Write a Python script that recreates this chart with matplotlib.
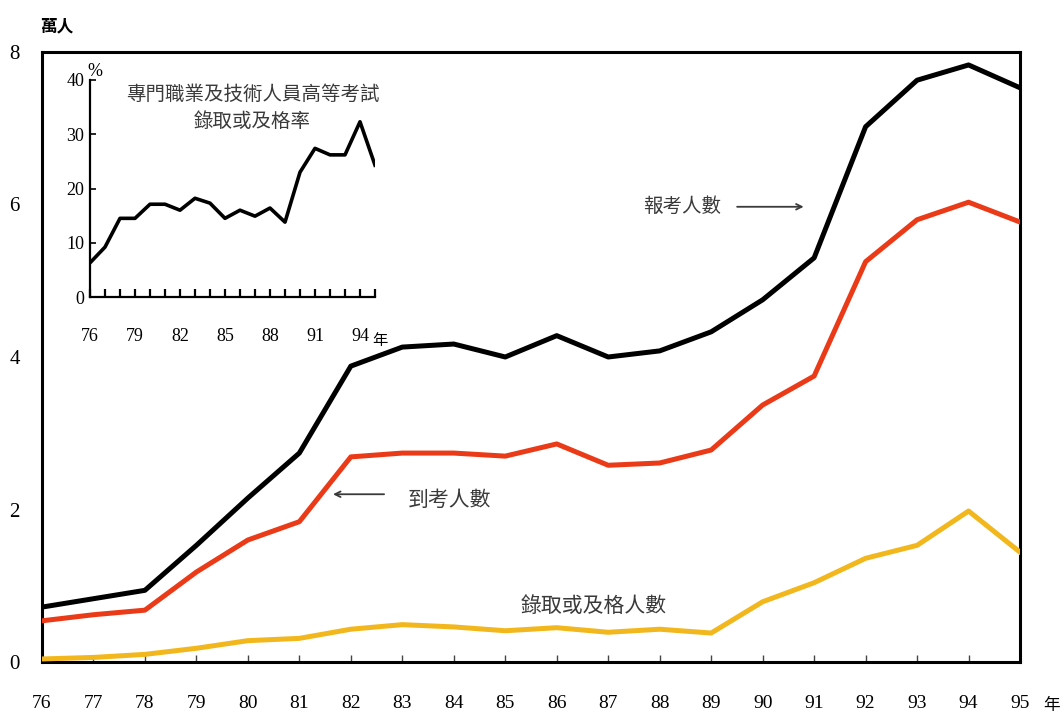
import numpy as np
import matplotlib.pyplot as plt

years = list(range(76, 96))

# 報考人數, 到考人數, 錄取或及格人數 (萬人)
applicants = [0.72, 0.83, 0.94, 1.53, 2.15, 2.74, 3.88, 4.13, 4.17, 4.00,
              4.28, 4.00, 4.08, 4.33, 4.75, 5.30, 7.02, 7.63, 7.83, 7.53]
attendees = [0.54, 0.62, 0.68, 1.18, 1.60, 1.84, 2.69, 2.74, 2.74, 2.70,
             2.86, 2.58, 2.61, 2.78, 3.37, 3.75, 5.25, 5.80, 6.03, 5.77]
passed = [0.04, 0.06, 0.10, 0.18, 0.28, 0.31, 0.43, 0.49, 0.46, 0.41,
          0.45, 0.39, 0.43, 0.38, 0.79, 1.04, 1.36, 1.53, 1.98, 1.44]

# 錄取或及格率 (%)
pass_rate = [6.3, 9.2, 14.5, 14.5, 17.1, 17.1, 16.0, 18.2, 17.3, 14.5,
             16.0, 14.9, 16.4, 13.8, 23.0, 27.4, 26.2, 26.2, 32.3, 24.3]

main_yticks = [0, 2, 4, 6, 8]
inset_yticks = [0, 10, 20, 30, 40]
inset_xlabels = [76, 79, 82, 85, 88, 91, 94]

num_font = 'Liberation Serif'
cjk = ['Noto Sans CJK TC', 'DejaVu Sans']
txt_color = '#3a3a3a'

fig = plt.figure(figsize=(10.62, 7.17), dpi=100)
ax = fig.add_axes([0.0395, 0.0767, 0.921, 0.8508])

ax.plot(years, passed, color='#f2b71c', lw=3.6, solid_joinstyle='round', zorder=3)
ax.plot(years, attendees, color='#ea3a17', lw=3.6, solid_joinstyle='round', zorder=4)
ax.plot(years, applicants, color='black', lw=3.6, solid_joinstyle='round', zorder=5)

ax.set_xlim(76, 95)
ax.set_ylim(0, 8)
for s in ax.spines.values():
    s.set_linewidth(2.2)
ax.set_xticks(years)
ax.set_xticklabels([str(y) for y in years], fontfamily=num_font, fontsize=14)
ax.tick_params(axis='x', direction='in', length=5, width=1, pad=24, colors='#444444',
               labelcolor='black')
ax.set_yticks(main_yticks)
ax.set_yticklabels([str(v) for v in main_yticks], fontfamily=num_font, fontsize=15)
ax.tick_params(axis='y', length=0, pad=16)
ax.text(95.45, -0.57, '年', fontsize=12, family=cjk, ha='left', va='center')
ax.text(-0.002, 1.027, '萬人', transform=ax.transAxes, fontsize=12, family=cjk,
        fontweight='bold', ha='left', va='bottom')

# annotations
ax.text(87.68, 5.97, '報考人數', fontsize=14, family=cjk, color=txt_color,
        ha='left', va='center')
ax.annotate('', xy=(90.85, 5.97), xytext=(89.45, 5.97),
            arrowprops=dict(arrowstyle='->', color=txt_color, lw=1.3))
ax.text(83.1, 2.13, '到考人數', fontsize=15, family=cjk, color=txt_color,
        ha='left', va='center')
ax.annotate('', xy=(81.6, 2.2), xytext=(82.7, 2.2),
            arrowprops=dict(arrowstyle='->', color=txt_color, lw=1.3))
ax.text(85.3, 0.74, '錄取或及格人數', fontsize=15, family=cjk, color=txt_color,
        ha='left', va='center')

# inset: pass rate
left, right = 90 / 1062, 375 / 1062
bottom, top = 1 - 297 / 717, 1 - 80 / 717
ins = fig.add_axes([left, bottom, right - left, top - bottom])
ins.plot(years, pass_rate, color='black', lw=2.6, solid_joinstyle='round')
ins.set_xlim(76, 95)
ins.set_ylim(0, 40)
ins.spines['top'].set_visible(False)
ins.spines['right'].set_visible(False)
ins.spines['left'].set_linewidth(1.6)
ins.spines['bottom'].set_linewidth(1.6)
ins.set_xticks(years)
ins.set_xticklabels([str(y) if y in inset_xlabels else '' for y in years],
                    fontfamily=num_font, fontsize=13)
ins.tick_params(axis='x', direction='in', length=6, width=1.6, pad=22)
ins.set_yticks(inset_yticks)
ins.set_yticklabels([str(v) for v in inset_yticks], fontfamily=num_font, fontsize=13)
ins.tick_params(axis='y', direction='in', length=4, width=1.2, pad=4)
ins.text(-0.01, 1.0, '%', transform=ins.transAxes, fontsize=13, fontfamily=num_font,
         ha='left', va='bottom')
ins.text(94.8, -8.0, '年', fontsize=11, family=cjk, ha='left', va='center')
ins.text(0.57, 0.87, '專門職業及技術人員高等考試\n錄取或及格率', transform=ins.transAxes,
         fontsize=14, family=cjk, color=txt_color, ha='center',
         va='center', linespacing=1.4)
ins.patch.set_alpha(0)

fig.savefig('out.png', dpi=100)
